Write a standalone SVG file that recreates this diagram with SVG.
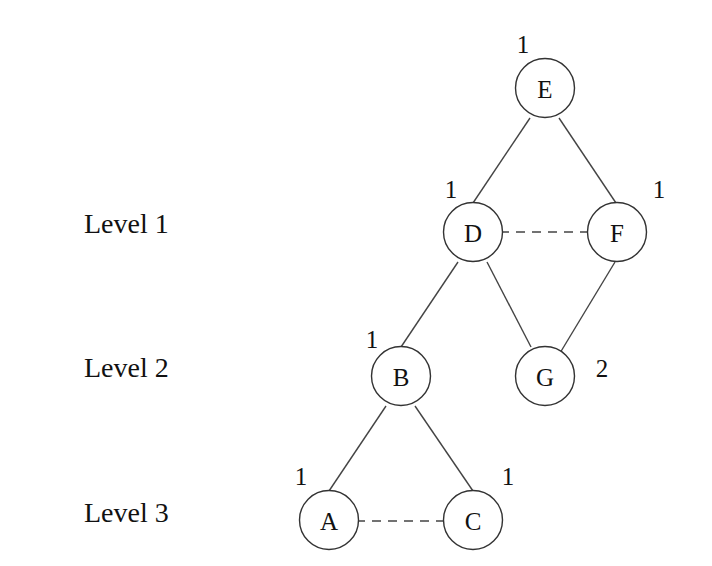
<svg xmlns="http://www.w3.org/2000/svg" width="712" height="566" viewBox="0 0 712 566">
  <style>
    .node circle { fill: #ffffff; stroke: #333333; stroke-width: 1.4; }
    .node text { font-family: "Liberation Serif", "Times New Roman", serif; font-size: 25px; fill: #111111; text-anchor: middle; dominant-baseline: central; }
    .edge { stroke: #444444; stroke-width: 1.4; fill: none; }
    .dashed { stroke-dasharray: 9 7; stroke-dashoffset: 3; }
    .weight { font-family: "Liberation Serif", "Times New Roman", serif; font-size: 25px; fill: #111111; text-anchor: middle; }
    .level { font-family: "Liberation Serif", "Times New Roman", serif; font-size: 28px; fill: #111111; }
  </style>
  <rect width="712" height="566" fill="#ffffff"/>

  <!-- level captions -->
  <text class="level" x="84" y="233">Level 1</text>
  <text class="level" x="84" y="377">Level 2</text>
  <text class="level" x="84" y="522">Level 3</text>

  <!-- connectors -->
  <g id="connectors">
    <line class="edge" x1="530" y1="118" x2="473" y2="203"/>
    <line class="edge" x1="559" y1="118" x2="616" y2="203"/>
    <line class="edge" x1="458" y1="262" x2="401" y2="347"/>
    <line class="edge" x1="487" y1="262" x2="531" y2="347"/>
    <line class="edge" x1="615" y1="262" x2="560" y2="353"/>
    <line class="edge" x1="386" y1="406" x2="329" y2="491"/>
    <line class="edge" x1="415" y1="406" x2="473" y2="491"/>
    <line class="edge dashed" x1="503" y1="232" x2="588" y2="232"/>
    <line class="edge dashed" x1="359" y1="521" x2="444" y2="521"/>
  </g>

  <!-- nodes -->
  <g id="node-E" class="node"><circle cx="545" cy="88" r="29.5"/><text x="545" y="89">E</text></g>
  <g id="node-D" class="node"><circle cx="473" cy="232" r="29.5"/><text x="473" y="233">D</text></g>
  <g id="node-F" class="node"><circle cx="617" cy="232" r="29.5"/><text x="617" y="233">F</text></g>
  <g id="node-B" class="node"><circle cx="401" cy="376" r="29.5"/><text x="401" y="377">B</text></g>
  <g id="node-G" class="node"><circle cx="545" cy="376" r="29.5"/><text x="545" y="377">G</text></g>
  <g id="node-A" class="node"><circle cx="329" cy="520" r="29.5"/><text x="329" y="521">A</text></g>
  <g id="node-C" class="node"><circle cx="473" cy="520" r="29.5"/><text x="473" y="521">C</text></g>

  <!-- node weights -->
  <g id="weights">
    <text class="weight" x="523" y="53">1</text>
    <text class="weight" x="451" y="198">1</text>
    <text class="weight" x="659" y="198">1</text>
    <text class="weight" x="372" y="348">1</text>
    <text class="weight" x="602" y="377">2</text>
    <text class="weight" x="301" y="485">1</text>
    <text class="weight" x="508" y="485">1</text>
  </g>
</svg>
